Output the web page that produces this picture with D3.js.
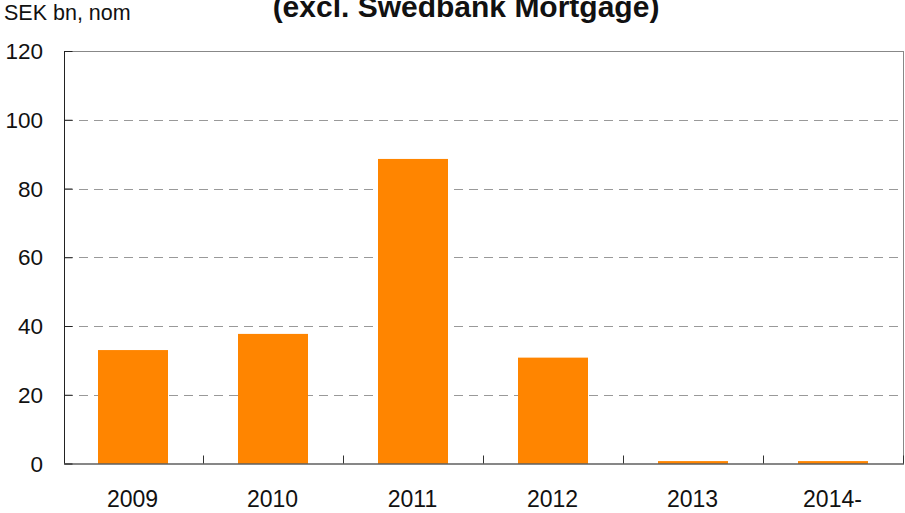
<!DOCTYPE html>
<html>
<head>
<meta charset="utf-8">
<script src="https://cdn.jsdelivr.net/npm/d3@7"></script>
<style>
  html, body { margin: 0; padding: 0; background: #fff; }
  svg { display: block; font-family: Arial, "Liberation Sans", sans-serif; }
</style>
</head>
<body>
<svg id="chart" width="905" height="513"></svg>
<script>
// Data
const years = ['2009', '2010', '2011', '2012', '2013', '2014-'];
const maturities = [33.0, 37.7, 88.6, 30.8, 0.7, 0.7];
const yTicks = [0, 20, 40, 60, 80, 100, 120];

const titleText = '(excl. Swedbank Mortgage)';
const unitText = 'SEK bn, nom';

const dims = {
  width: 905,
  height: 513,
  margin: { left: 64, right: 1, top: 51, bottom: 49.5 }
};

const svg = d3.select('#chart');
const plotW = dims.width - dims.margin.left - dims.margin.right;
const plotH = dims.height - dims.margin.top - dims.margin.bottom;

// Scales
const xScale = d3.scaleBand()
  .domain(years)
  .range([0, plotW])
  .paddingInner(0.5)
  .paddingOuter(0.25);

const yScale = d3.scaleLinear()
  .domain([0, 120])
  .range([plotH, 0]);

const plot = svg.append('g')
  .attr('transform', `translate(${dims.margin.left}, ${dims.margin.top})`);

// Gridlines (dashed)
plot.append('g')
  .selectAll('line')
  .data(yTicks.filter(t => t > 0 && t < 120))
  .join('line')
  .attr('x1', 0)
  .attr('x2', plotW)
  .attr('y1', d => Math.round(yScale(d)) + 0.5)
  .attr('y2', d => Math.round(yScale(d)) + 0.5)
  .attr('stroke', '#999')
  .attr('stroke-width', 1)
  .attr('stroke-dasharray', '9,6');

// Frame top and right
plot.append('line')
  .attr('x1', 0).attr('x2', plotW)
  .attr('y1', 0.5).attr('y2', 0.5)
  .attr('stroke', '#888');
plot.append('line')
  .attr('x1', plotW - 0.5).attr('x2', plotW - 0.5)
  .attr('y1', 0).attr('y2', plotH)
  .attr('stroke', '#888');

// Bars
plot.append('g')
  .selectAll('rect')
  .data(years.map((y, i) => ({ year: y, value: maturities[i] })))
  .join('rect')
  .attr('x', d => xScale(d.year) - 1)
  .attr('y', d => yScale(d.value))
  .attr('width', xScale.bandwidth())
  .attr('height', d => plotH - yScale(d.value))
  .attr('fill', '#ff8500');

// Y axis
const yAxis = d3.axisRight(yScale)
  .tickValues(yTicks)
  .tickSize(8)
  .tickFormat('');

const yAxisG = plot.append('g')
  .attr('transform', 'translate(0.5, 0)')
  .call(yAxis);
yAxisG.select('.domain').attr('stroke', '#222').attr('d', `M0,0V${plotH}`);
yAxisG.selectAll('.tick line').attr('stroke', '#222');

// Y labels
plot.append('g')
  .selectAll('text')
  .data(yTicks)
  .join('text')
  .attr('x', 43 - dims.margin.left)
  .attr('y', d => yScale(d))
  .attr('dy', '0.36em')
  .attr('text-anchor', 'end')
  .attr('font-size', 22.5)
  .attr('fill', '#111')
  .text(d => d);

// X axis: ticks at category boundaries, pointing up
const boundaries = years.slice(1).map(y => xScale(y) - xScale.step() * xScale.paddingInner() / 2);
boundaries.push(plotW);
const xAxisG = plot.append('g')
  .attr('transform', `translate(0, ${plotH})`);
xAxisG.append('line')
  .attr('x1', 0).attr('x2', plotW)
  .attr('y1', 0.5).attr('y2', 0.5)
  .attr('stroke', '#111')
  .attr('stroke-width', 1.2);
xAxisG.selectAll('.xtick')
  .data(boundaries)
  .join('line')
  .attr('class', 'xtick')
  .attr('x1', d => Math.round(d) - 0.5)
  .attr('x2', d => Math.round(d) - 0.5)
  .attr('y1', 0)
  .attr('y2', -8)
  .attr('stroke', '#333');

xAxisG.selectAll('.xlabel')
  .data(years)
  .join('text')
  .attr('class', 'xlabel')
  .attr('x', d => xScale(d) + xScale.bandwidth() / 2 - 1.5)
  .attr('y', 43)
  .attr('text-anchor', 'middle')
  .attr('font-size', 23)
  .attr('fill', '#111')
  .text(d => d);

// Unit label and (clipped) title
svg.append('text')
  .attr('x', 4)
  .attr('y', 19.5)
  .attr('font-size', 21.5)
  .attr('fill', '#111')
  .text(unitText);

svg.append('text')
  .attr('x', 466)
  .attr('y', 17)
  .attr('text-anchor', 'middle')
  .attr('font-size', 30)
  .attr('font-weight', 'bold')
  .attr('fill', '#111')
  .text(titleText);
</script>
</body>
</html>
